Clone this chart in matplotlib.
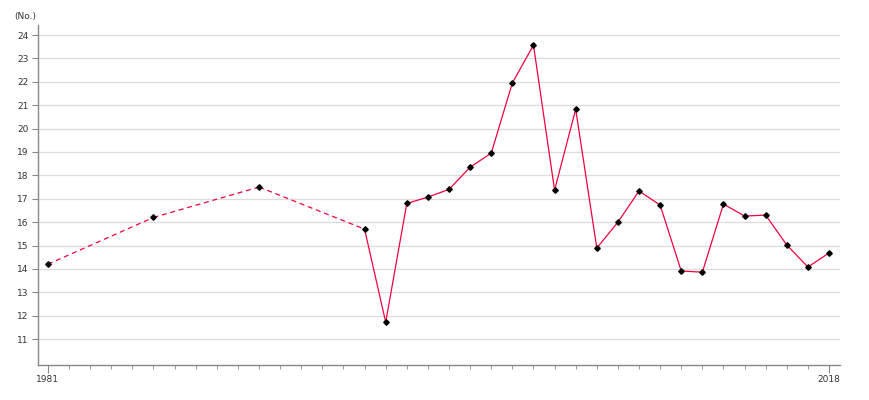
import matplotlib
matplotlib.use("Agg")
import matplotlib.pyplot as plt
from matplotlib.ticker import MultipleLocator, FixedLocator

years = [1981, 1986, 1991, 1996, 1997, 1998, 1999, 2000, 2001, 2002, 2003, 2004,
         2005, 2006, 2007, 2008, 2009, 2010, 2011, 2012, 2013, 2014, 2015, 2016,
         2017, 2018]
values = [14.2, 16.2, 17.5, 15.7, 11.72, 16.8, 17.07, 17.4, 18.35, 18.95, 21.95,
          23.57, 17.37, 20.83, 14.89, 16.0, 17.33, 16.73, 13.91, 13.86, 16.77,
          16.26, 16.3, 15.02, 14.08, 14.68]
y_ticks = list(range(11, 25))
x_tick_labels = [1981, 2018]

line_color = "#f0043f"

fig = plt.figure(figsize=(8.7, 4.0), dpi=100)
ax = fig.add_axes([38/870, 1-365/400, (840-38)/870, (365-25)/400])

# dashed segments for non-consecutive years, solid for consecutive
for i in range(len(years) - 1):
    x0, x1 = years[i], years[i+1]
    ls = "-" if x1 - x0 == 1 else (0, (4, 3))
    ax.plot([x0, x1], [values[i], values[i+1]], color=line_color, lw=0.9,
            linestyle=ls, zorder=3)
ax.plot(years, values, linestyle="none", marker="D", markersize=2.8,
        color="black", zorder=4)

ax.set_xlim(1980.53, 2018.52)
ax.set_ylim(9.89, 24.43)
ax.yaxis.set_major_locator(FixedLocator(y_ticks))
ax.set_yticklabels([str(t) for t in y_ticks])
ax.xaxis.set_major_locator(FixedLocator(x_tick_labels))
ax.set_xticklabels([str(t) for t in x_tick_labels])
ax.xaxis.set_minor_locator(MultipleLocator(1))

ax.grid(axis="y", color="#dcdcdc", lw=0.9, zorder=0)
for s in ["top", "right"]:
    ax.spines[s].set_visible(False)
for s in ["left", "bottom"]:
    ax.spines[s].set_color("#888888")
    ax.spines[s].set_linewidth(1.0)

ax.tick_params(axis="y", length=4, color="#888888", labelsize=6.5, pad=3,
               labelcolor="#333333")
ax.tick_params(axis="x", which="major", length=6, color="#888888",
               labelsize=6.5, pad=1.5, labelcolor="#333333")
ax.tick_params(axis="x", which="minor", length=3, color="#888888")

fig.text(14/870, 1-17/400, "(No.)", fontsize=6.5, color="#333333",
         va="center", ha="left")

fig.savefig("out.png", dpi=100)
